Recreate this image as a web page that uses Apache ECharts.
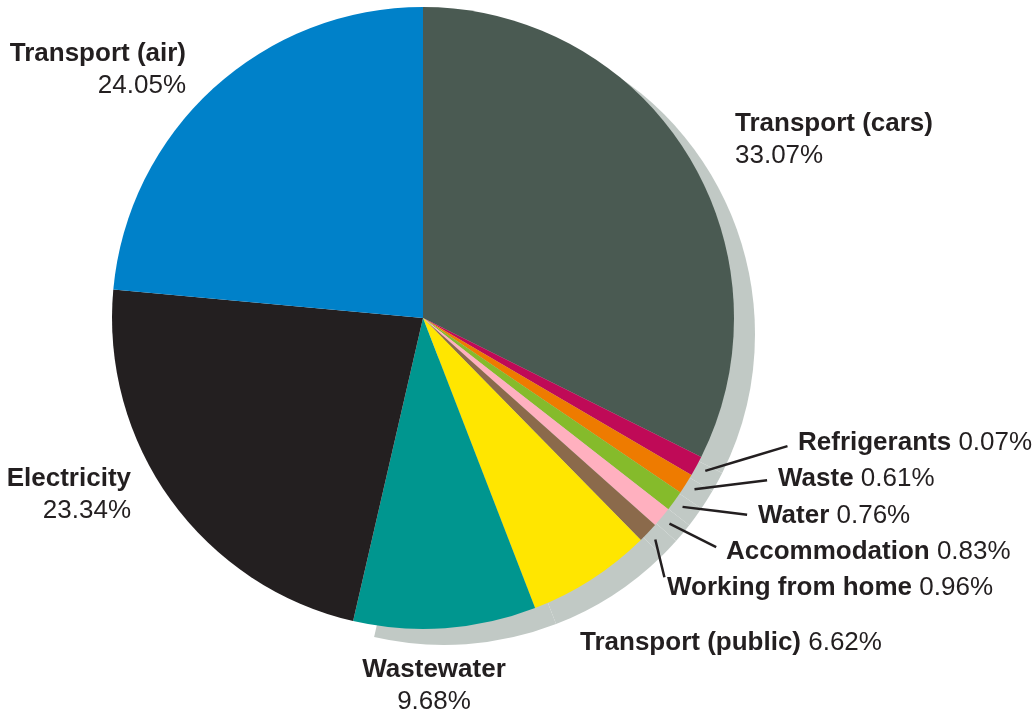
<!DOCTYPE html>
<html>
<head>
<meta charset="utf-8">
<title>Emissions by source</title>
<script src="https://cdn.jsdelivr.net/npm/echarts@6/dist/echarts.min.js"></script>
<style>
  html, body { margin: 0; padding: 0; background: #fff; }
  #main { width: 1035px; height: 720px; }
</style>
</head>
<body>
<div id="main"></div>
<script>
// slices, clockwise from 12 o'clock
var categories = ['Transport (cars)', 'Refrigerants', 'Waste', 'Water', 'Accommodation',
    'Working from home', 'Transport (public)', 'Wastewater', 'Electricity', 'Transport (air)'];
// share of the total, in %
var shares = [33.07, 0.07, 0.61, 0.76, 0.83, 0.96, 6.62, 9.68, 23.34, 24.05];

var colors = ['#4a5a52', '#bf0a57', '#ee7b00', '#85bb2b', '#ffb0bf',
    '#8b6a4b', '#ffe600', '#00968f', '#231f20', '#0081c9'];

// pie geometry (px)
var CX = 423, CY = 318, R = 311;
var SHADOW_DX = 21, SHADOW_DY = 16;
var SHADOW_COLOR = '#c1c9c5';

// label placement: [x, y, align, layout]  2 = name over value, 1 = one line, 'line' = one line + leader
var labelPos = [
    [735, 140, 'left', 2],
    [798, 443, 'left', 'line'],
    [778, 479, 'left', 'line'],
    [758, 516, 'left', 'line'],
    [726, 552, 'left', 'line'],
    [667, 588, 'left', 'line'],
    [580, 643, 'left', 1],
    [434, 686, 'center', 2],
    [131, 495, 'right', 2],
    [186, 70, 'right', 2]
];

var FONT = '"Liberation Sans", Arial, Helvetica, sans-serif';

var myChart = echarts.init(document.getElementById('main'));

var mainData = categories.map(function (name, i) {
    return {
        name: name,
        value: shares[i],
        itemStyle: { color: colors[i] },
        labelLine: { show: labelPos[i][3] === 'line' }
    };
});

// grey drop shadow behind everything except electricity and air
var shadowData = categories.map(function (name, i) {
    return {
        name: name,
        value: shares[i],
        itemStyle: { color: i < 8 ? SHADOW_COLOR : 'rgba(0,0,0,0)' }
    };
});

var option = {
    animation: false,
    backgroundColor: '#fff',
    series: [
        {
            type: 'pie',
            z: 1,
            silent: true,
            center: [CX + SHADOW_DX, CY + SHADOW_DY],
            radius: R,
            minAngle: 3.8,
            startAngle: 90,
            avoidLabelOverlap: false,
            label: { show: false },
            labelLine: { show: false },
            itemStyle: { borderWidth: 0 },
            emphasis: { disabled: true },
            data: shadowData
        },
        {
            type: 'pie',
            z: 2,
            center: [CX, CY],
            radius: R,
            minAngle: 3.8,
            startAngle: 90,
            avoidLabelOverlap: false,
            itemStyle: { borderWidth: 0 },
            emphasis: { disabled: true },
            label: {
                show: true,
                position: 'outside',
                color: '#231f20',
                fontFamily: FONT,
                fontSize: 26,
                lineHeight: 32,
                formatter: function (p) {
                    var v = p.value.toFixed(2) + '%';
                    if (labelPos[p.dataIndex][3] === 2) {
                        return '{n|' + p.name + '}\n{v|' + v + '}';
                    }
                    return '{n|' + p.name + '} {v|' + v + '}';
                },
                rich: {
                    n: { fontFamily: FONT, fontSize: 26, fontWeight: 'bold', lineHeight: 32, color: '#231f20' },
                    v: { fontFamily: FONT, fontSize: 26, lineHeight: 32, color: '#231f20' }
                }
            },
            labelLine: {
                lineStyle: { color: '#231f20', width: 2.5 }
            },
            labelLayout: function (p) {
                var pos = labelPos[p.dataIndex];
                var out = { x: pos[0], y: pos[1], align: pos[2], verticalAlign: 'middle' };
                var pts = p.labelLinePoints;
                if (pos[3] === 'line' && pts) {
                    // leader starts just outside the pie, in the shadow band
                    var k = (R + 10) / R;
                    var sx = CX + (pts[0][0] - CX) * k;
                    var sy = CY + (pts[0][1] - CY) * k;
                    var ddx = pos[0] - sx, ddy = pos[1] - sy;
                    var len = Math.sqrt(ddx * ddx + ddy * ddy);
                    var gap = 11;
                    var ex = pos[0] - ddx / len * gap;
                    var ey = pos[1] - ddy / len * gap;
                    out.labelLinePoints = [[sx, sy], [(sx + ex) / 2, (sy + ey) / 2], [ex, ey]];
                }
                return out;
            },
            data: mainData
        }
    ]
};

myChart.setOption(option);
</script>
</body>
</html>
